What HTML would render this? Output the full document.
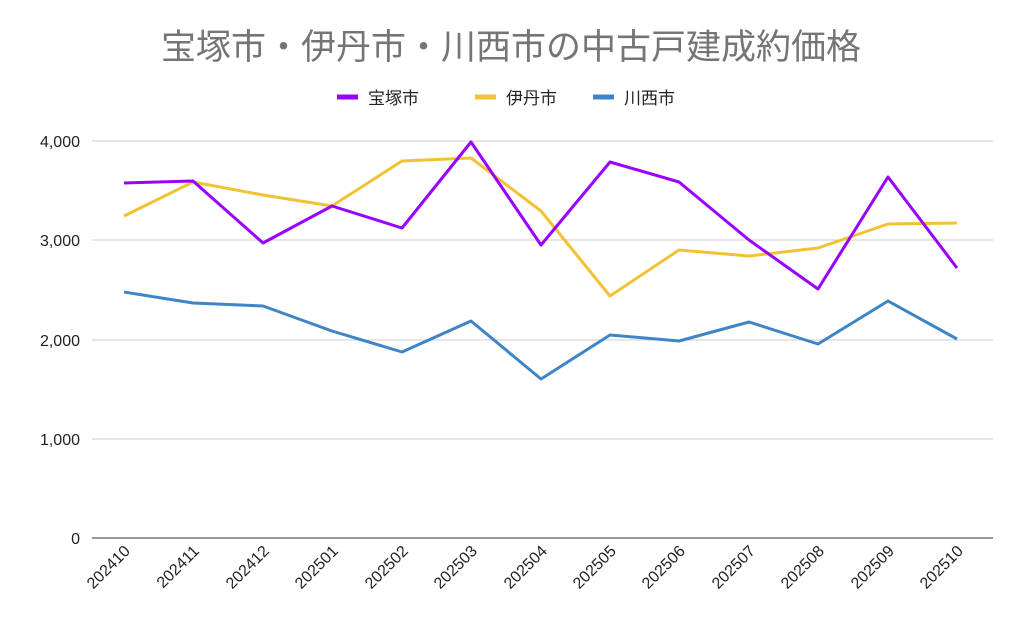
<!DOCTYPE html>
<html><head><meta charset="utf-8"><style>
body{margin:0;background:#fff;}
svg text{font-family:"Liberation Sans","Noto Sans CJK JP",sans-serif;}
</style></head><body>
<svg width="1024" height="634" viewBox="0 0 1024 634" xmlns="http://www.w3.org/2000/svg">
<rect width="1024" height="634" fill="#fff"/>
<text x="511" y="59" text-anchor="middle" font-size="35" fill="#757575">宝塚市・伊丹市・川西市の中古戸建成約価格</text>
<g font-size="17" fill="#222">
<line x1="337" y1="97" x2="358" y2="97" stroke="#9900ff" stroke-width="5"/><text x="368" y="104">宝塚市</text>
<line x1="475" y1="97" x2="496" y2="97" stroke="#f1c232" stroke-width="5"/><text x="506" y="104">伊丹市</text>
<line x1="593" y1="97" x2="614" y2="97" stroke="#3d85c6" stroke-width="5"/><text x="624" y="104">川西市</text>
</g>
<g stroke="#cccccc" stroke-width="1">
<line x1="92" y1="141" x2="993" y2="141"/><line x1="92" y1="240" x2="993" y2="240"/>
<line x1="92" y1="340" x2="993" y2="340"/><line x1="92" y1="439" x2="993" y2="439"/>
</g>
<line x1="92" y1="538" x2="993" y2="538" stroke="#333" stroke-width="1"/>
<g font-size="16" fill="#222" text-anchor="end">
<text x="80" y="147">4,000</text><text x="80" y="246">3,000</text><text x="80" y="346">2,000</text><text x="80" y="445">1,000</text><text x="80" y="544">0</text>
</g>
<g fill="none" stroke-width="3" stroke-linejoin="round">
<polyline stroke="#f1c232" points="124,216 193,182 263,195 332,206 402,161 471,158 541,211 610,296 679,250 749,256 818,248 888,224 957,223"/>
<polyline stroke="#9900ff" points="124,183 193,181 263,243 332,206 402,228 471,142 541,245 610,162 679,182 749,240 818,289 888,177 957,268"/>
<polyline stroke="#3d85c6" points="124,292 193,303 263,306 332,331 402,352 471,321 541,379 610,335 679,341 749,322 818,344 888,301 957,339"/>
</g>
<g font-size="16" fill="#222" text-anchor="end">
<text transform="translate(131,552) rotate(-45)">202410</text>
<text transform="translate(200,552) rotate(-45)">202411</text>
<text transform="translate(270,552) rotate(-45)">202412</text>
<text transform="translate(339,552) rotate(-45)">202501</text>
<text transform="translate(409,552) rotate(-45)">202502</text>
<text transform="translate(478,552) rotate(-45)">202503</text>
<text transform="translate(548,552) rotate(-45)">202504</text>
<text transform="translate(617,552) rotate(-45)">202505</text>
<text transform="translate(686,552) rotate(-45)">202506</text>
<text transform="translate(756,552) rotate(-45)">202507</text>
<text transform="translate(825,552) rotate(-45)">202508</text>
<text transform="translate(895,552) rotate(-45)">202509</text>
<text transform="translate(964,552) rotate(-45)">202510</text>
</g>
</svg>
</body></html>
